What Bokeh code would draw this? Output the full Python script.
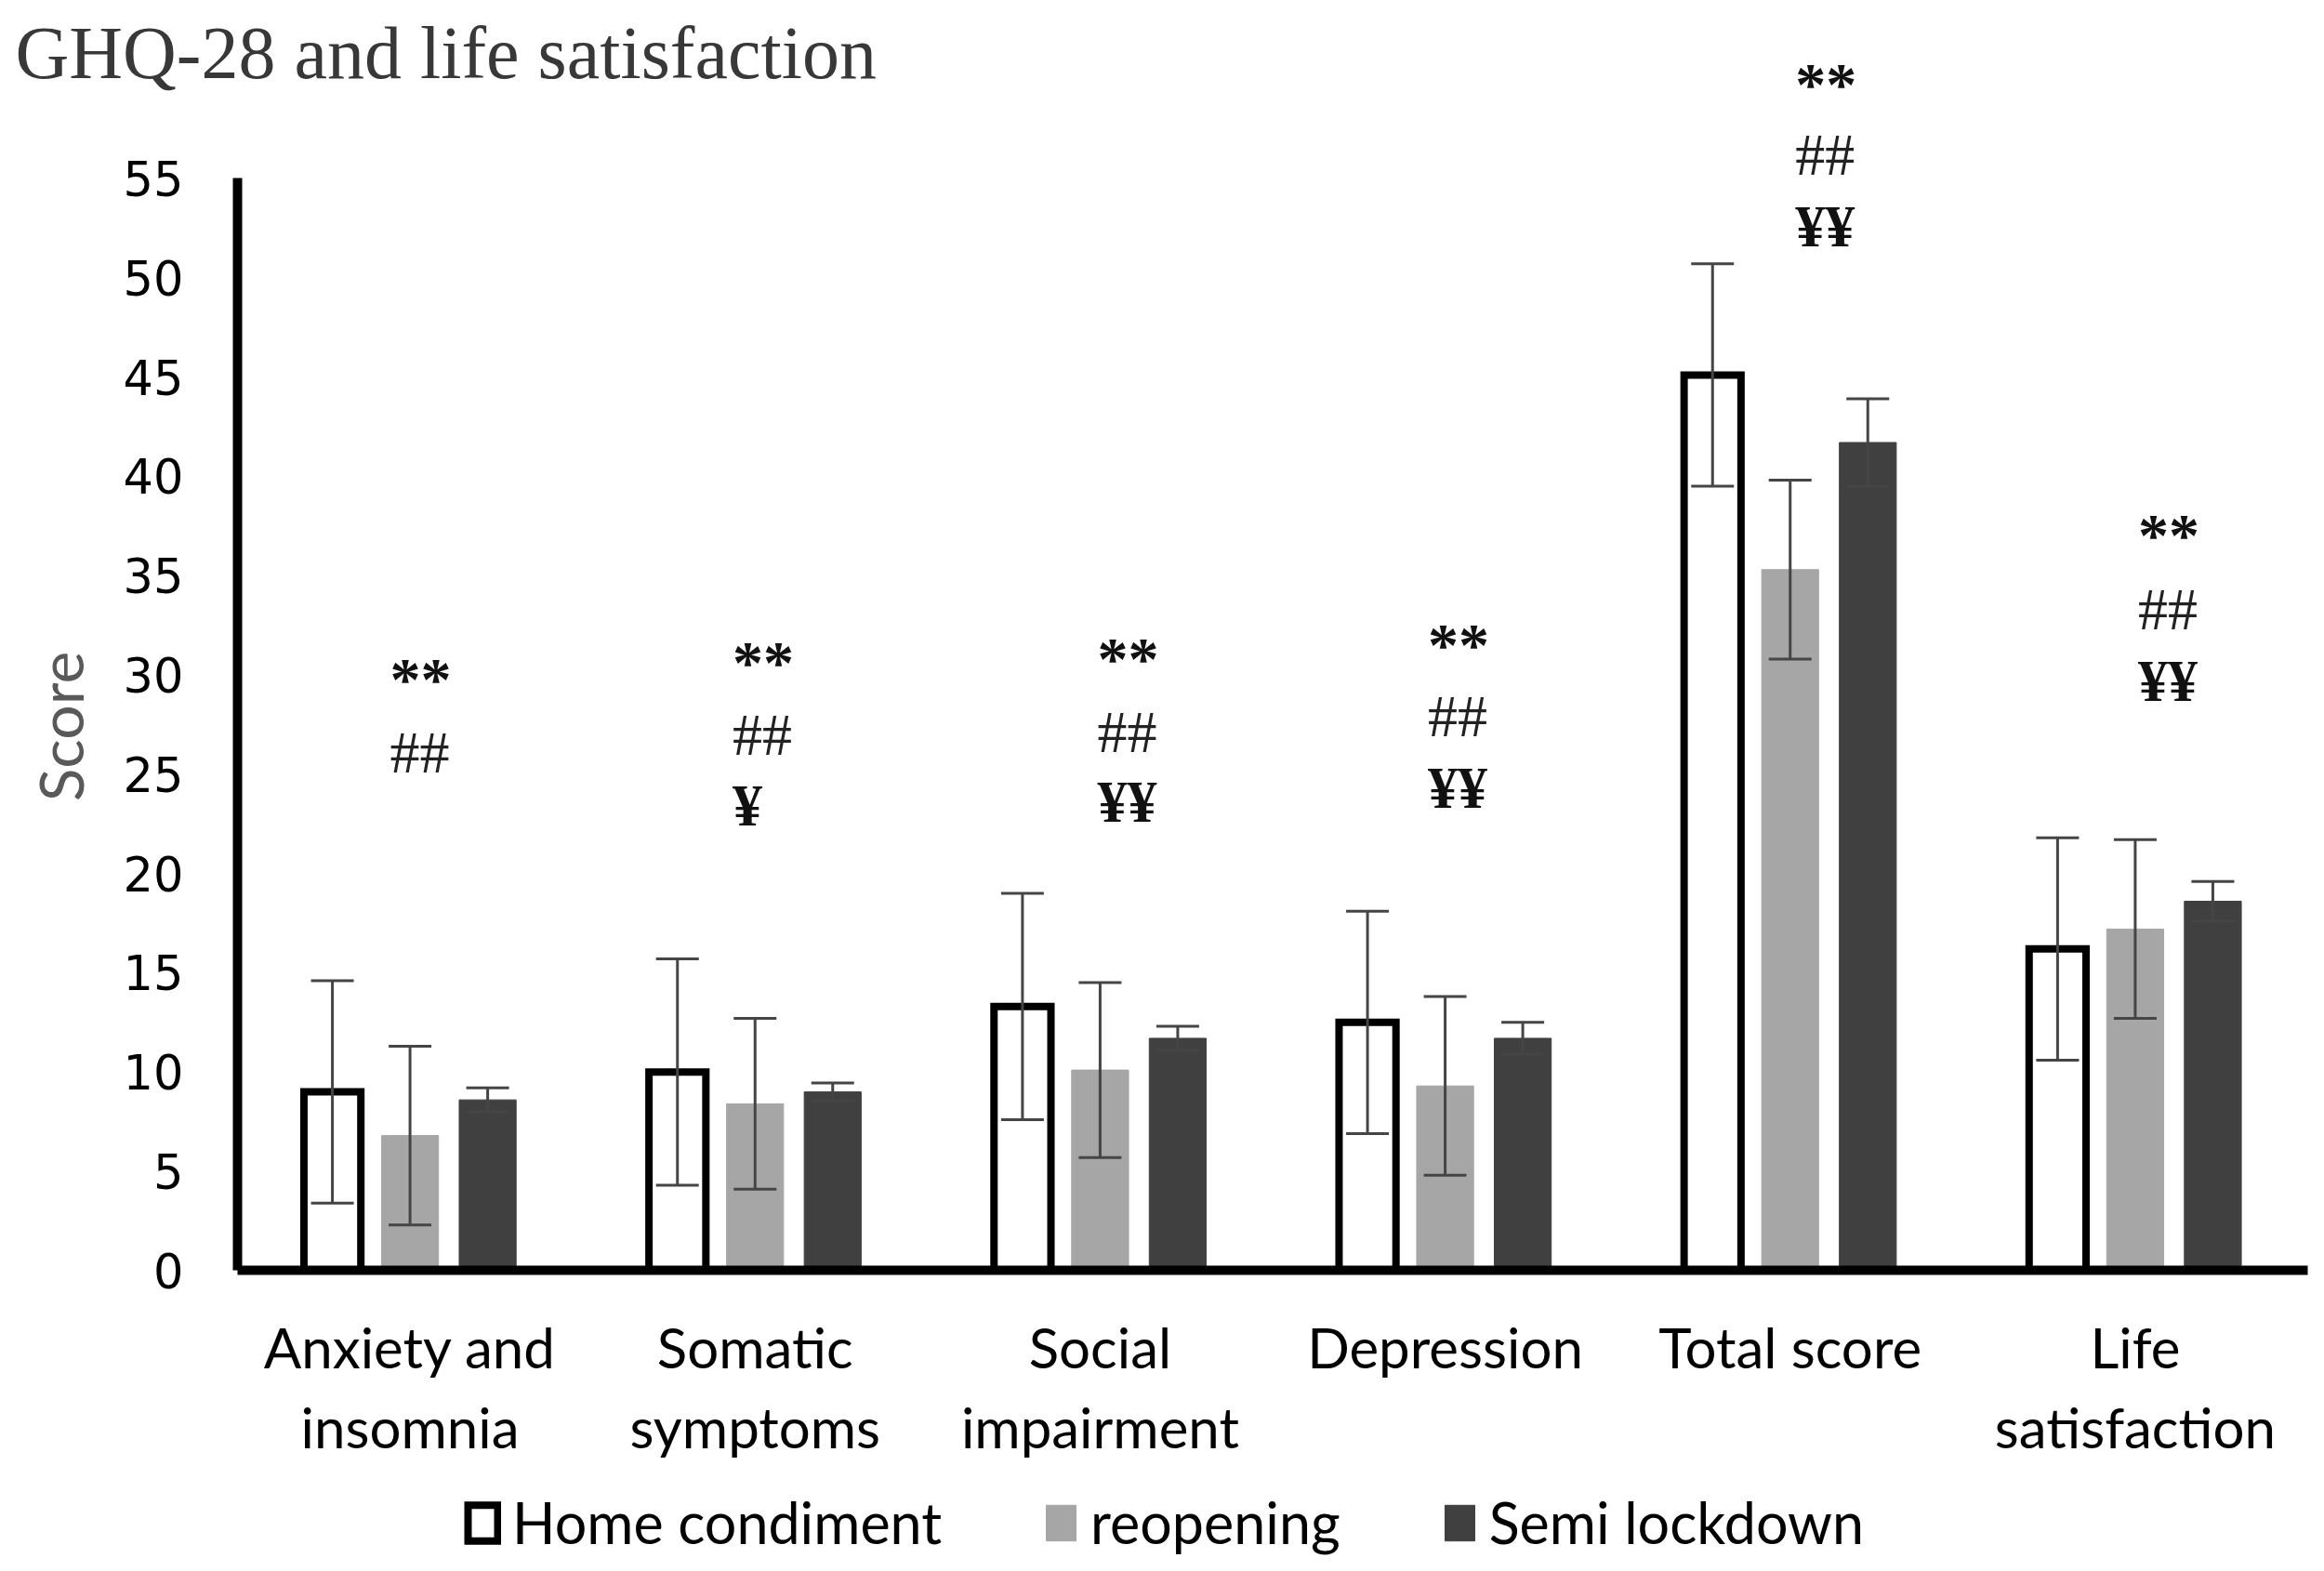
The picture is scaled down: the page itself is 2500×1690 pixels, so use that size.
import math
from bokeh.plotting import figure
from bokeh.models import (Range1d, FixedTicker, Whisker, TeeHead, Label,
                          Legend, LegendItem, ColumnDataSource)
from bokeh.transform import dodge
from bokeh.core.properties import value
from bokeh.embed import file_html
from bokeh.resources import INLINE

# ---------------- data ----------------
categories = ["Anxiety and\ninsomnia", "Somatic\nsymptoms", "Social\nimpairment",
              "Depression", "Total score", "Life\nsatisfaction"]
series = ["Home condiment", "reopening", "Semi lockdown"]

home_mean = [9.0, 10.0, 13.3, 12.5, 45.1, 16.2]
home_sd = [5.6, 5.7, 5.7, 5.6, 5.6, 5.6]
reop_mean = [6.8, 8.4, 10.1, 9.3, 35.3, 17.2]
reop_sd = [4.5, 4.3, 4.4, 4.5, 4.5, 4.5]
semi_mean = [8.6, 9.0, 11.7, 11.7, 41.7, 18.6]
semi_sd = [0.6, 0.45, 0.6, 0.8, 2.2, 1.0]

y_ticks = [0, 5, 10, 15, 20, 25, 30, 35, 40, 45, 50, 55]

# significance marks (text and the score level of each line)
star_text = ["**", "**", "**", "**", "**", "**"]
star_y = [30.15, 31.0, 31.2, 31.9, 60.1, 37.4]
hash_text = ["##", "##", "##", "##", "##", "##"]
hash_y = [26.1, 27.0, 27.1, 27.9, 56.2, 33.3]
yen_text = ["", "¥", "¥¥", "¥¥", "¥¥", "¥¥"]
yen_y = [0, 23.4, 23.6, 24.3, 52.6, 29.7]
mark_dx = [-0.058, -0.065, -0.008, -0.050, 0.015, 0.008]

# ---------------- layout constants (pixels) ----------------
W, H = 2484, 1674
AX_X0 = 255.0        # pixel x of the y axis
AX_X1 = 2482.0       # pixel x where the category axis ends
AX_Y0 = 1366.4       # pixel y of score 0
PX_PER_UNIT = 21.364 # pixels per score unit
cw = (AX_X1 - AX_X0) / len(categories)

cat_pos = [i + 0.5 for i in range(len(categories))]
p = figure(x_range=Range1d(-AX_X0 / cw, (W - AX_X0) / cw),
           y_range=Range1d(-(H - AX_Y0) / PX_PER_UNIT, AX_Y0 / PX_PER_UNIT),
           width=W, height=H, output_backend="svg", toolbar_location=None,
           min_border_left=0, min_border_right=0, min_border_top=0,
           min_border_bottom=0)
p.outline_line_color = None
p.xgrid.grid_line_color = None
p.ygrid.grid_line_color = None
p.background_fill_color = "white"
p.border_fill_color = "white"

src = ColumnDataSource(dict(
    xc=cat_pos,
    home=home_mean, reop=reop_mean, semi=semi_mean,
    home_lo=[m - s for m, s in zip(home_mean, home_sd)],
    home_hi=[m + s for m, s in zip(home_mean, home_sd)],
    reop_lo=[m - s for m, s in zip(reop_mean, reop_sd)],
    reop_hi=[m + s for m, s in zip(reop_mean, reop_sd)],
    semi_lo=[m - s for m, s in zip(semi_mean, semi_sd)],
    semi_hi=[m + s for m, s in zip(semi_mean, semi_sd)],
))

offs = [-0.225, 0.0, 0.225]
bw = 0.165
r_home = p.vbar(x=dodge("xc", offs[0]), top="home", width=bw, source=src,
                fill_color="white", line_color="black", line_width=8, line_join="miter")
r_reop = p.vbar(x=dodge("xc", offs[1]), top="reop", width=bw, source=src,
                fill_color="#a6a6a6", line_color="#a6a6a6", line_width=1)
r_semi = p.vbar(x=dodge("xc", offs[2]), top="semi", width=bw, source=src,
                fill_color="#404040", line_color="#404040", line_width=1)

err_col = "#454545"
for off, key in zip(offs, ["home", "reop", "semi"]):
    w = Whisker(base=dodge("xc", off), upper=key + "_hi", lower=key + "_lo",
                source=src, line_color=err_col, line_width=3, level="overlay",
                upper_head=TeeHead(size=46, line_width=3, line_color=err_col),
                lower_head=TeeHead(size=46, line_width=3, line_color=err_col))
    p.add_layout(w)

# significance marks
mark_x = [c + d for c, d in zip(cat_pos, mark_dx)]
star_src = ColumnDataSource(dict(x=mark_x, y=star_y, t=star_text))
hash_src = ColumnDataSource(dict(x=mark_x, y=hash_y, t=hash_text))
yen_idx = [i for i, t in enumerate(yen_text) if t]
yen_src = ColumnDataSource(dict(x=[mark_x[i] for i in yen_idx],
                                y=[yen_y[i] for i in yen_idx],
                                t=[yen_text[i] for i in yen_idx]))
p.text(x="x", y="y", text="t", source=star_src, text_font=value("Liberation Serif"),
       text_font_style="bold", text_font_size="66px", text_color="#111111",
       text_align="left", text_baseline="middle", y_offset=8)
p.text(x="x", y="y", text="t", source=hash_src, text_font=value("Liberation Serif"),
       text_font_size="64px", text_color="#222222",
       text_align="left", text_baseline="middle")
p.text(x="x", y="y", text="t", source=yen_src, text_font=value("Liberation Serif"),
       text_font_style="bold", text_font_size="64px", text_color="#111111",
       text_align="left", text_baseline="middle")

# axes (drawn at fixed data locations inside the frame)
p.yaxis.fixed_location = 0
p.yaxis.ticker = FixedTicker(ticks=y_ticks)
p.yaxis.bounds = (0, 55)
p.yaxis.axis_line_width = 10
p.yaxis.axis_line_color = "black"
p.yaxis.major_tick_line_color = None
p.yaxis.minor_tick_line_color = None
p.yaxis.major_label_standoff = 52
p.yaxis.major_label_text_font = "DejaVu Sans"
p.yaxis.major_label_text_font_size = "51px"
p.yaxis.major_label_text_color = "black"

p.xaxis.fixed_location = 0
p.xaxis.ticker = FixedTicker(ticks=cat_pos)
p.xaxis.major_label_overrides = {x: c for x, c in zip(cat_pos, categories)}
p.xaxis.bounds = (0, len(categories))
p.xaxis.axis_line_width = 10
p.xaxis.axis_line_color = "black"
p.xaxis.major_tick_line_color = None
p.xaxis.minor_tick_line_color = None
p.xaxis.major_label_standoff = 40
p.xaxis.major_label_text_font = "Lato"
p.xaxis.major_label_text_font_size = "60px"
p.xaxis.major_label_text_color = "black"

# title & y label
p.add_layout(Label(x=16, y=H - 56, x_units="screen", y_units="screen",
                   text="GHQ-28 and life satisfaction", text_font="Liberation Serif",
                   text_font_size="80px", text_color="#383838",
                   text_align="left", text_baseline="middle"))
p.add_layout(Label(x=64, y=H - 781, x_units="screen", y_units="screen", angle=math.pi / 2,
                   text="Score", text_font="Lato", text_font_size="66px",
                   text_color="#595959", text_align="center", text_baseline="middle"))

# legend
legend = Legend(items=[LegendItem(label=series[0], renderers=[r_home]),
                       LegendItem(label=series[1], renderers=[r_reop]),
                       LegendItem(label=series[2], renderers=[r_semi])],
                orientation="horizontal", location=(499, 0),
                glyph_width=40, glyph_height=48, label_standoff=12, spacing=108,
                padding=0, margin=0, border_line_color=None, background_fill_alpha=0,
                label_text_font="Lato", label_text_font_size="61px", label_text_color="black")
p.add_layout(legend, "center")

open("out.html", "w").write(file_html(p, INLINE))
